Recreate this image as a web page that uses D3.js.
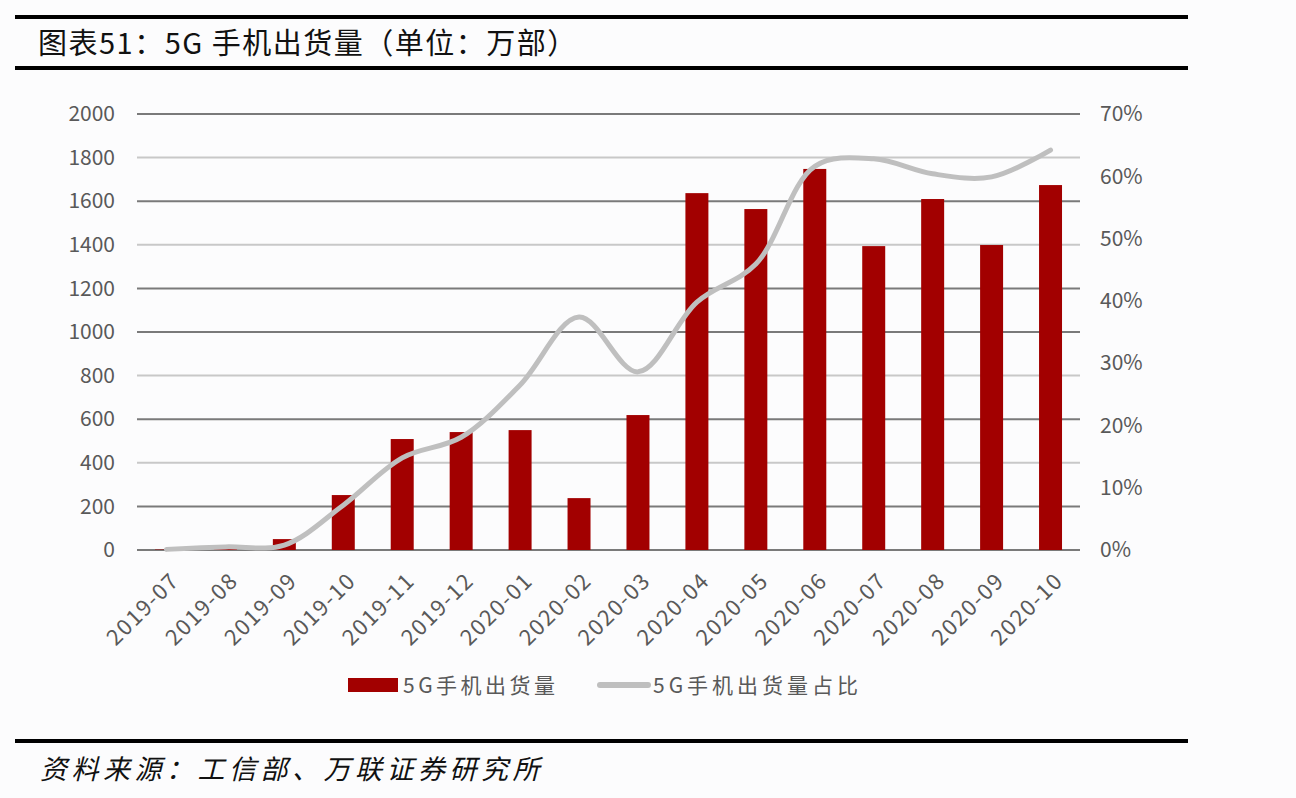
<!DOCTYPE html>
<html>
<head>
<meta charset="utf-8">
<script src="https://cdn.jsdelivr.net/npm/d3@7"></script>
<style>
  body { margin: 0; background: #fcfcfd; }
  svg { display: block; }
  text { font-family: "Noto Sans CJK SC", "Noto Sans", sans-serif; }
</style>
</head>
<body>
<svg id="chart"></svg>
<script>
// data
const months = ['2019-07', '2019-08', '2019-09', '2019-10', '2019-11', '2019-12', '2020-01', '2020-02',
    '2020-03', '2020-04', '2020-05', '2020-06', '2020-07', '2020-08', '2020-09', '2020-10'];
const shipments = [2, 5, 50, 252, 509, 541, 550, 238, 619, 1637, 1564, 1748, 1394, 1610, 1399, 1674];
const share = [0.1, 0.5, 0.8, 7.2, 14.8, 18.1, 26.5, 37.4, 28.6, 39.8, 45.9, 61.6, 62.8, 60.4, 59.9, 64.2];
const leftTicks = [0, 200, 400, 600, 800, 1000, 1200, 1400, 1600, 1800, 2000];
const rightTicks = [0, 10, 20, 30, 40, 50, 60, 70];
const lightGrid = [400, 800, 1400, 1800];

const W = 1296, H = 798;
const margin = { top: 114, bottom: 248, left: 137, right: 216 };
const width = W - margin.left - margin.right;
const height = H - margin.top - margin.bottom;

const svg = d3.select('#chart').attr('width', W).attr('height', H);

// header and footer rules
[15, 66, 739].forEach(y => {
    svg.append('rect').attr('x', 15).attr('y', y).attr('width', 1173).attr('height', 4).attr('fill', '#000');
});

svg.append('text')
    .attr('x', 38).attr('y', 54)
    .attr('font-size', 29)
    .attr('letter-spacing', 1.5)
    .attr('fill', '#111')
    .text('图表51：5G 手机出货量（单位：万部）');

svg.append('text')
    .attr('x', 40).attr('y', 779)
    .attr('font-size', 27)
    .attr('letter-spacing', 4.5)
    .attr('font-style', 'italic')
    .attr('fill', '#111')
    .text('资料来源：工信部、万联证券研究所');

const chart = svg.append('g').attr('transform', `translate(${margin.left},${margin.top})`);

const xScale = d3.scaleBand().domain(months).range([0, width]).paddingInner(0.61).paddingOuter(0.305);
const yScale = d3.scaleLinear().domain([0, 2000]).range([height, 0]);
const yScale2 = d3.scaleLinear().domain([0, 70]).range([height, 0]);

// gridlines
chart.append('g')
    .selectAll('line')
    .data(leftTicks)
    .join('line')
    .attr('x1', 0).attr('x2', width)
    .attr('y1', d => yScale(d)).attr('y2', d => yScale(d))
    .attr('stroke', d => lightGrid.includes(d) ? '#c8c8c8' : '#7a7a7a')
    .attr('stroke-width', 2);

// left axis
const yAxis = d3.axisLeft(yScale).tickValues(leftTicks).tickSize(0).tickPadding(22)
    .tickFormat(d3.format('d'));
chart.append('g').call(yAxis)
    .call(g => g.select('.domain').remove())
    .selectAll('text')
    .attr('font-size', 21).attr('fill', '#595959')
    .attr('font-family', 'Roboto, "Noto Sans", sans-serif');

// right axis
const yAxis2 = d3.axisRight(yScale2).tickValues(rightTicks).tickSize(0).tickPadding(20)
    .tickFormat(d => d + '%');
chart.append('g').attr('transform', `translate(${width},0)`).call(yAxis2)
    .call(g => g.select('.domain').remove())
    .selectAll('text')
    .attr('font-size', 21).attr('fill', '#595959')
    .attr('font-family', 'Roboto, "Noto Sans", sans-serif');

// x labels
chart.append('g')
    .selectAll('text')
    .data(months)
    .join('text')
    .attr('text-anchor', 'end')
    .attr('font-size', 22)
    .attr('letter-spacing', 1.5)
    .attr('fill', '#595959')
    .attr('font-family', 'Roboto, "Noto Sans", sans-serif')
    .attr('transform', d => `translate(${xScale(d) + xScale.bandwidth() / 2 + 14},${height + 32}) rotate(-45)`)
    .text(d => d);

// bars
chart.append('g')
    .selectAll('rect')
    .data(months)
    .join('rect')
    .attr('x', d => xScale(d))
    .attr('y', (d, i) => yScale(shipments[i]))
    .attr('width', xScale.bandwidth())
    .attr('height', (d, i) => height - yScale(shipments[i]))
    .attr('fill', '#a20000');

// share line
const line = d3.line()
    .x((d, i) => xScale(months[i]) + xScale.bandwidth() / 2)
    .y(d => yScale2(d))
    .curve(d3.curveCatmullRom.alpha(0.5));

chart.append('path')
    .datum(share)
    .attr('d', line)
    .attr('fill', 'none')
    .attr('stroke', '#bfbfbf')
    .attr('stroke-width', 5)
    .attr('stroke-linecap', 'round');

// legend
const legend = svg.append('g').attr('transform', 'translate(348,685)');
legend.append('rect').attr('x', 0).attr('y', -7).attr('width', 50).attr('height', 14).attr('fill', '#a20000');
legend.append('text').attr('x', 55).attr('y', 8).attr('font-size', 21).attr('letter-spacing', 3.5)
    .attr('fill', '#595959').text('5G手机出货量');
legend.append('line').attr('x1', 252).attr('x2', 300).attr('y1', 0).attr('y2', 0)
    .attr('stroke', '#bfbfbf').attr('stroke-width', 6).attr('stroke-linecap', 'round');
legend.append('text').attr('x', 305).attr('y', 8).attr('font-size', 21).attr('letter-spacing', 4)
    .attr('fill', '#595959').text('5G手机出货量占比');
</script>
</body>
</html>
